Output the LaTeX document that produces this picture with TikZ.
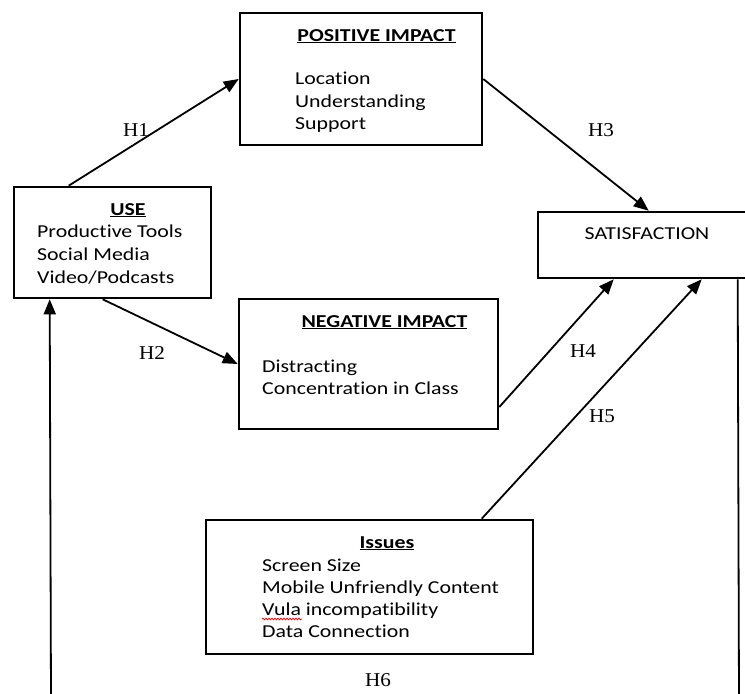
\documentclass[tikz,border=0pt]{standalone}
\usepackage{fontspec}
\setmainfont{Carlito}[FakeStretch=1.2, Ligatures=NoCommon]
\newfontfamily\hypfont{Liberation Serif}[FakeStretch=1.08]
\usetikzlibrary{arrows.meta,decorations.pathmorphing}

\begin{document}
\begin{tikzpicture}[x=1pt, y=-1pt,
    box/.style={draw, line width=2.6pt, inner sep=0pt},
    head/.style={anchor=base, inner sep=0pt, font=\fontsize{18.2}{22}\selectfont\bfseries},
    item/.style={anchor=base west, inner sep=0pt, font=\fontsize{18.2}{22}\selectfont},
    hyp/.style={anchor=base, inner sep=0pt, font=\fontsize{19.6}{22}\selectfont\hypfont},
    link/.style={line width=1.8pt, -{Triangle[length=15pt,width=12pt]}}]
  \clip (0,0) rectangle (745,694);

  % ---- the five constructs ----
  \node[box, minimum width=242pt, minimum height=132pt] (pos) at (361,79)    {};
  \node[box, minimum width=197pt, minimum height=111pt] (use) at (112.5,242.5) {};
  \node[box, minimum width=244pt, minimum height=66pt]  (sat) at (660,245)   {};
  \node[box, minimum width=259pt, minimum height=130pt] (neg) at (368.5,364) {};
  \node[box, minimum width=327pt, minimum height=134pt] (iss) at (369.5,587) {};

  % ---- what each box holds ----
  \node[head] (posH) at (376.5,41) {\underline{POSITIVE IMPACT}};
  \node[item] (pos1) at (295,84)  {Location};
  \node[item] (pos2) at (295,107) {Understanding};
  \node[item] (pos3) at (295,129) {Support};

  \node[head] (useH) at (128,215) {\underline{USE}};
  \node[item] (use1) at (37,237) {Productive Tools};
  \node[item] (use2) at (37,260) {Social Media};
  \node[item] (use3) at (37,283) {Video/Podcasts};

  \node[head, font=\fontsize{18.2}{22}\selectfont] (satH) at (647,239) {SATISFACTION};

  \node[head] (negH) at (384.5,327) {\underline{NEGATIVE IMPACT}};
  \node[item] (neg1) at (262,372) {Distracting};
  \node[item] (neg2) at (262,394) {Concentration in Class};

  \node[head] (issH) at (387,548) {\underline{Issues}};
  \node[item] (iss1) at (262,571) {Screen Size};
  \node[item] (iss2) at (262,593) {Mobile Unfriendly Content};
  \node[item] (iss3) at (262,615) {Vula incompatibility};
  \node[item] (iss4) at (262,637) {Data Connection};
  \draw[red, line width=0.8pt, decorate,
        decoration={snake, segment length=3pt, amplitude=0.8pt}]
       ([yshift=-4pt]iss3.base west) -- ++(40,0);

  % ---- hypotheses ----
  \draw[link] ([xshift=56pt]use.north west) -- (pos.west);
  \draw[link] (pos.east) -- ([xshift=112pt]sat.north west);
  \draw[link] ([xshift=90pt]use.south west) -- (neg.west);
  \draw[link] ([yshift=-43pt]neg.east) -- ([xshift=77pt]sat.south west);
  \draw[link] ([xshift=277pt]iss.north west) -- ([xshift=165pt]sat.south west);

  % ---- the feedback loop runs off the bottom edge ----
  \coordinate (h6r) at (739,700);
  \coordinate (h6l) at (51,700);
  \draw[line width=1.8pt] ([xshift=201pt]sat.south west) -- (h6r);
  \draw[link] (h6l) -- ([xshift=37pt]use.south west);

  \node[hyp] (h1) at (136,136) {H1};
  \node[hyp] (h2) at (152,359) {H2};
  \node[hyp] (h3) at (601,136) {H3};
  \node[hyp] (h4) at (583,357) {H4};
  \node[hyp] (h5) at (602,422) {H5};
  \node[hyp] (h6) at (378,686) {H6};
\end{tikzpicture}
\end{document}
